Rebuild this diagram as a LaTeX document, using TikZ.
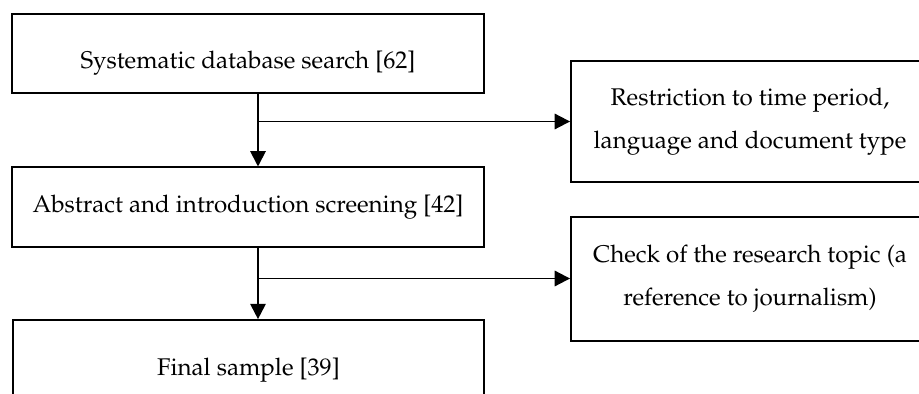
\documentclass[tikz,border=0pt]{standalone}
\usepackage[T1]{fontenc}
\usepackage{mathpazo}
\usetikzlibrary{arrows.meta}

\tikzset{
  stage/.style={draw, line width=0.9pt, minimum width=215pt, minimum height=36pt, inner sep=0pt},
  filter/.style={draw, line width=0.9pt, minimum width=163pt, align=center, inner sep=0pt,
    font=\fontsize{11pt}{19.5pt}\selectfont},
  arr/.style={line width=0.9pt, -{Triangle[width=7pt,length=7pt]}}
}

\begin{document}
\begin{tikzpicture}[x=0.016cm, y=-0.016cm, font=\fontsize{11pt}{13pt}\selectfont]

\useasboundingbox (0,0) rectangle (919,394);
\clip (0,0) rectangle (919,394);

% main steps
\node[stage, text height=15pt, text depth=1.5pt] (search) at (248,53.5) {Systematic database search [62]};
\node[stage] (screening) at (248,207) {Abstract and introduction screening [42]};
\node[stage, minimum width=214.5pt, minimum height=45.4pt] (sample) at (248.5,370) {Final sample [39]};

% exclusion steps
\node[filter, minimum height=54.9pt] (restriction) at (750,121.5) {Restriction to time period,\\language and document type};
\node[filter, minimum height=56.2pt] (topic) at (750,279) {Check of the research topic (a\\reference to journalism)};

\coordinate (b1) at (258,121.5);
\coordinate (b2) at (258,278.5);

\draw[arr] (search.south -| b1) -- (screening.north -| b1);
\draw[arr] (screening.south -| b2) -- (sample.north -| b2);

\draw[arr] (b1) -- (b1 -| restriction.west);
\draw[arr] (b2) -- (b2 -| topic.west);

\end{tikzpicture}
\end{document}
